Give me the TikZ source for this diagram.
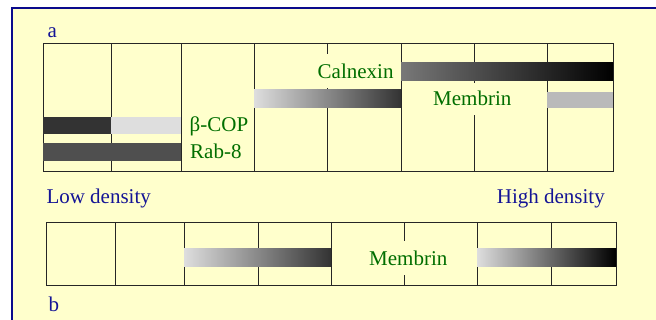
\documentclass[tikz,border=0pt]{standalone}
\usepackage{fontspec}
\setmainfont{Liberation Serif}
\definecolor{bg}{RGB}{255,255,204}
\definecolor{frameblue}{RGB}{10,10,140}
\definecolor{txtblue}{RGB}{20,20,150}
\definecolor{txtgreen}{RGB}{0,110,0}
\begin{document}
\begin{tikzpicture}[x=1pt,y=-1pt,
  grid/.style={draw=black!85,line width=1pt},
  lbl/.style={font=\fontsize{21}{25}\selectfont, inner xsep=0pt, inner ysep=0pt, anchor=base west},
  bluelbl/.style={lbl,text=txtblue},
  greenlbl/.style={lbl,text=txtgreen},
  cover/.style={fill=bg, text height=22pt, text depth=6pt, inner ysep=3pt}]
\clip (0,0) rectangle (656,320);
\fill[white] (0,0) rectangle (656,320);
\draw[fill=bg, draw=frameblue, line width=2pt] (12,8) rectangle (700,340);
% top panel grid
\draw[grid] (43,44) rectangle (613,172);
\foreach \x in {111,181,254,327,401,474,547} \draw[grid] (\x,44) -- (\x,172);
\node[greenlbl, cover] (calnexin) at (317.5,79) {Calnexin};
\node[greenlbl, cover, text height=20pt] (membrinA) at (433,106) {Membrin};
% top panel bars
\fill[black!80] (43,117) rectangle (111,134);
\fill[black!13] (111,117) rectangle (181,134);
\fill[black!69] (43,143) rectangle (181,161);
\shade[left color=black!13, right color=black!80] (254,90) rectangle (401,108);
\shade[left color=black!53, right color=black] (401,63) rectangle (613,81);
\fill[black!27] (547,92) rectangle (613,108);
% labels
\node[bluelbl] (a) at (47.5,37.3) {a};
\node[greenlbl] (bcop) at (189.5,131.7) {β-COP};
\node[greenlbl] (rab) at (190,158.3) {Rab-8};
\node[bluelbl] (low) at (46.3,203.3) {Low density};
\node[bluelbl, anchor=base east] (high) at (605,203.3) {High density};
% bottom panel
\draw[grid] (46,223) rectangle (616,286);
\foreach \x in {115,184,258,331,404,477,551} \draw[grid] (\x,223) -- (\x,286);
\node[greenlbl, cover] (membrinB) at (369,266) {Membrin};
\shade[left color=black!13, right color=black!80] (184,249) rectangle (331,267);
\shade[left color=black!13, right color=black] (477,249) rectangle (616,267);
\node[bluelbl] (b) at (48.3,311.7) {b};
\end{tikzpicture}
\end{document}
